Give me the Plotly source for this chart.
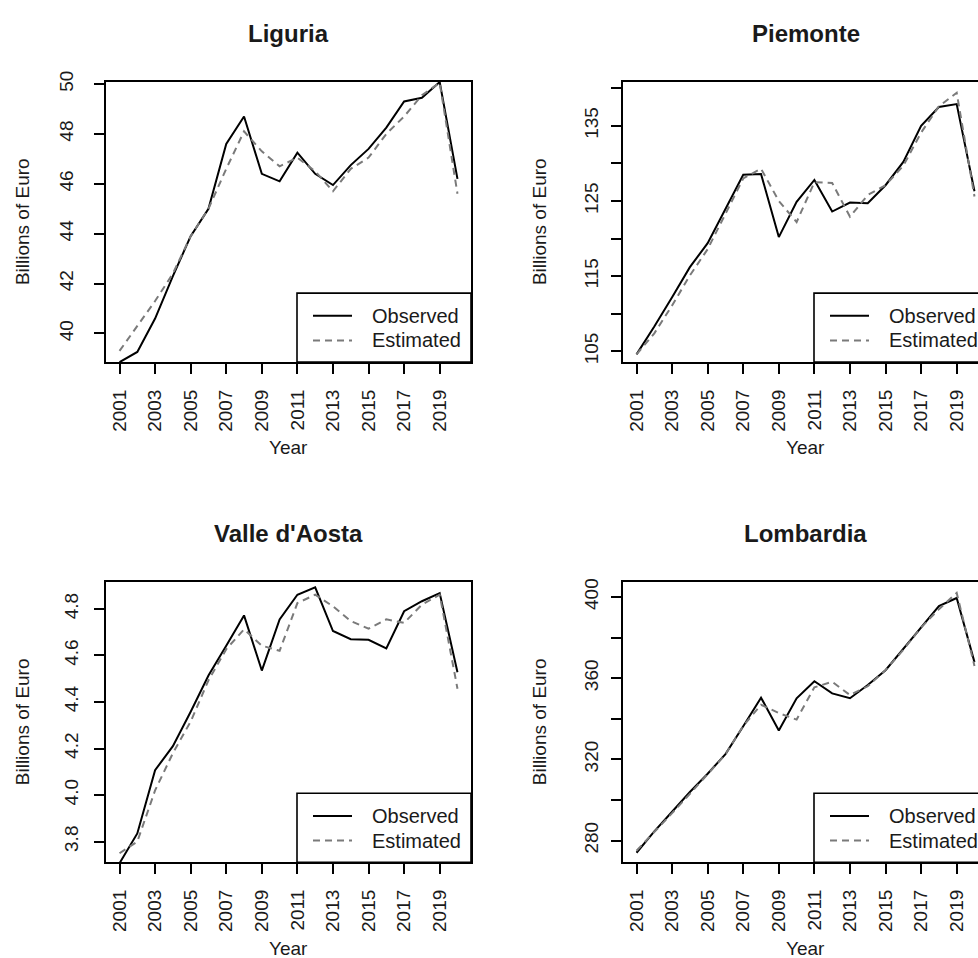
import plotly.graph_objects as go

W, H = 978, 958

years = list(range(2001, 2021))

liguria_obs = [38.85, 39.26, 40.6, 42.3, 43.9, 45.0, 47.6, 48.7, 46.4, 46.1,
               47.25, 46.4, 45.95, 46.75, 47.4, 48.25, 49.3, 49.45, 50.08, 46.2]
liguria_est = [39.3, 40.3, 41.3, 42.4, 43.9, 45.0, 46.6, 48.1, 47.3, 46.7,
               47.05, 46.5, 45.7, 46.6, 47.05, 48.0, 48.7, 49.55, 50.05, 45.6]

piemonte_obs = [104.6, 108.3, 112.2, 116.2, 119.4, 124.0, 128.5, 128.6, 120.2, 124.9,
                127.8, 123.6, 124.8, 124.7, 127.1, 130.2, 135.0, 137.5, 137.9, 126.3]
piemonte_est = [104.6, 107.4, 111.1, 115.1, 118.6, 123.2, 128.0, 129.3, 125.0, 122.2,
                127.5, 127.4, 122.9, 125.8, 127.1, 129.7, 134.1, 137.6, 139.4, 125.6]

valle_obs = [3.707, 3.835, 4.107, 4.21, 4.358, 4.514, 4.642, 4.772, 4.535, 4.755,
             4.861, 4.893, 4.705, 4.670, 4.667, 4.630, 4.790, 4.833, 4.868, 4.528]
valle_est = [3.75, 3.80, 4.02, 4.18, 4.316, 4.493, 4.627, 4.712, 4.642, 4.62,
             4.825, 4.861, 4.811, 4.748, 4.715, 4.755, 4.74, 4.818, 4.861, 4.457]

lombardia_obs = [274.0, 284.5, 294.2, 303.9, 312.9, 322.6, 336.3, 350.4, 334.2, 350.1,
                 358.5, 352.5, 350.1, 356.6, 363.9, 374.4, 384.9, 395.5, 399.5, 367.9]
lombardia_est = [275.0, 284.0, 293.5, 303.0, 312.5, 322.5, 336.5, 346.9, 342.8, 339.6,
                 355.5, 358.2, 351.7, 356.0, 364.0, 374.0, 385.0, 394.0, 402.0, 366.0]

titles = ["Liguria", "Piemonte", "Valle d'Aosta", "Lombardia"]
x_tick_years = list(range(2001, 2020, 2))

liguria_ticks = [40, 42, 44, 46, 48, 50]
liguria_labels = ["40", "42", "44", "46", "48", "50"]
piemonte_ticks = [105, 110, 115, 120, 125, 130, 135, 140]
piemonte_labels = ["105", "", "115", "", "125", "", "135", ""]
valle_ticks = [3.8, 4.0, 4.2, 4.4, 4.6, 4.8]
valle_labels = ["3.8", "4.0", "4.2", "4.4", "4.6", "4.8"]
lombardia_ticks = [280, 300, 320, 340, 360, 380, 400]
lombardia_labels = ["280", "", "320", "", "360", "", "400"]

legend_labels = ["Observed", "Estimated"]
x_title = "Year"
y_title = "Billions of Euro"

FONT = "Liberation Sans, Arial, Helvetica, sans-serif"
TXT = "#1a1a1a"
GRAY = "#7a7a7a"

# panel boxes in pixels: (left, top, right, bottom)
boxes = [(106, 72, 471, 356), (623, 72, 988, 356),
         (106, 579, 471, 863), (623, 579, 988, 863)]
yranges = [[38.85, 50.08], [103.56, 140.83], [3.711, 4.915], [269.3, 407.3]]
ytickv = [liguria_ticks, piemonte_ticks, valle_ticks, lombardia_ticks]
ytickt = [liguria_labels, piemonte_labels, valle_labels, lombardia_labels]
ystand = [14, 6, 9, 6]
series = [(liguria_obs, liguria_est), (piemonte_obs, piemonte_est),
          (valle_obs, valle_est), (lombardia_obs, lombardia_est)]

px_per_year = 365 / 20.52
x0_year = 2000.24

def px(x):
    return x / W

def py(y):
    return 1 - y / H

fig = go.Figure()
layout = dict(width=W, height=H, autosize=False,
              margin=dict(l=0, r=0, t=0, b=0, pad=0),
              paper_bgcolor="white", plot_bgcolor="white",
              showlegend=False, font=dict(family=FONT, color=TXT, size=19))
annotations = []
shapes = []

for i, (l, t, r, b) in enumerate(boxes):
    n = "" if i == 0 else str(i + 1)
    right_px = min(r, W)
    xr = [x0_year, x0_year + (right_px - l) / px_per_year]
    obs, est = series[i]
    fig.add_trace(go.Scatter(x=years, y=obs, mode="lines", xaxis="x" + n, yaxis="y" + n,
                             line=dict(color="black", width=2), name=legend_labels[0]))
    fig.add_trace(go.Scatter(x=years, y=est, mode="lines", xaxis="x" + n, yaxis="y" + n,
                             line=dict(color=GRAY, width=2, dash="7px,5px"), name=legend_labels[1]))
    cut = r > W
    layout["xaxis" + n] = dict(domain=[px(l), px(right_px)], range=xr, anchor="y" + n,
                               tickmode="array", tickvals=x_tick_years,
                               ticktext=[str(v) for v in x_tick_years],
                               tickangle=-90, ticks="outside", ticklen=10, tickwidth=1.5,
                               tickcolor="black", showline=True, linecolor="black",
                               linewidth=1.6, mirror=True, showgrid=False, zeroline=False,
                               ticklabelstandoff=8,
                               tickfont=dict(size=19, color=TXT, family=FONT))
    layout["yaxis" + n] = dict(domain=[py(b), py(t)], range=yranges[i], anchor="x" + n,
                               tickmode="array", tickvals=ytickv[i], ticktext=ytickt[i],
                               tickangle=-90, ticks="outside", ticklen=10, tickwidth=1.5,
                               tickcolor="black", showline=True, linecolor="black",
                               linewidth=1.6, mirror=(not cut), showgrid=False, zeroline=False,
                               ticklabelstandoff=ystand[i],
                               tickfont=dict(size=19, color=TXT, family=FONT))
    cx = (l + r) / 2
    cy = (t + b) / 2
    annotations.append(dict(text="<b>%s</b>" % titles[i], x=px(cx), y=py(t - 49), xref="paper",
                            yref="paper", xanchor="center", yanchor="middle", showarrow=False,
                            font=dict(size=24, color=TXT, family=FONT)))
    annotations.append(dict(text=x_title, x=px(cx), y=py(b + 87), xref="paper", yref="paper",
                            xanchor="center", yanchor="middle", showarrow=False,
                            font=dict(size=19, color=TXT, family=FONT)))
    annotations.append(dict(text=y_title, x=px(l - 84), y=py(cy), xref="paper", yref="paper",
                            xanchor="center", yanchor="middle", showarrow=False, textangle=-90,
                            font=dict(size=19, color=TXT, family=FONT)))
    # legend box (bottom right of plot region)
    lg_l, lg_t = l + 191, b - 70
    shapes.append(dict(type="rect", xref="paper", yref="paper", x0=px(lg_l), x1=px(r),
                       y0=py(b), y1=py(lg_t), line=dict(color="black", width=1.6),
                       fillcolor="white", layer="above"))
    shapes.append(dict(type="line", xref="paper", yref="paper", x0=px(lg_l + 16), x1=px(lg_l + 55),
                       y0=py(lg_t + 23), y1=py(lg_t + 23), line=dict(color="black", width=2)))
    shapes.append(dict(type="line", xref="paper", yref="paper", x0=px(lg_l + 16), x1=px(lg_l + 55),
                       y0=py(lg_t + 48), y1=py(lg_t + 48),
                       line=dict(color=GRAY, width=2, dash="7px,5px")))
    for k, lab in enumerate(legend_labels):
        annotations.append(dict(text=lab, x=px(lg_l + 73), y=py(lg_t + 23 + 25 * k), xref="paper",
                                yref="paper", xanchor="left", yanchor="middle", showarrow=False,
                                font=dict(size=20, color=TXT, family=FONT)))

layout["annotations"] = annotations
layout["shapes"] = shapes
fig.update_layout(**layout)
fig.write_html("out.html")
